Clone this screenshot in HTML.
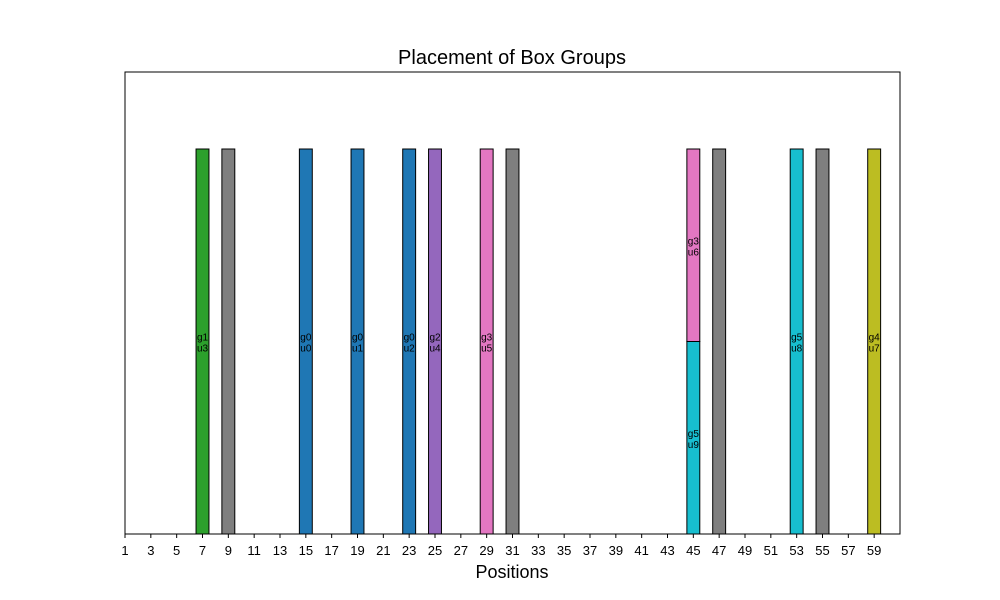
<!DOCTYPE html>
<html><head><meta charset="utf-8"><style>body{margin:0;background:#fff}svg{display:block}text{font-family:"Liberation Sans","DejaVu Sans",sans-serif}</style></head>
<body>
<svg id="chart" width="1000" height="600" xmlns="http://www.w3.org/2000/svg">
<rect x="0" y="0" width="1000" height="600" fill="#fff"/>
<text x="512" y="64" text-anchor="middle" font-size="20">Placement of Box Groups</text>
<g id="bars"></g>
<rect x="125" y="72" width="775" height="462" fill="none" stroke="#000" stroke-width="1"/>
<g id="ticks"></g>
<text x="512" y="578" text-anchor="middle" font-size="18">Positions</text>
</svg>
<script>
const positions = [7, 9, 15, 19, 23, 25, 29, 31, 45, 45, 47, 53, 55, 59];
const bottoms   = [0, 0, 0, 0, 0, 0, 0, 0, 0, 0.5, 0, 0, 0, 0];
const heights   = [1, 1, 1, 1, 1, 1, 1, 1, 0.5, 0.5, 1, 1, 1, 1];
const colors    = ['#2ca02c','#7f7f7f','#1f77b4','#1f77b4','#1f77b4','#9467bd','#e377c2','#7f7f7f','#17becf','#e377c2','#7f7f7f','#17becf','#7f7f7f','#bcbd22'];
const groupLabels = ['g1','','g0','g0','g0','g2','g3','','g5','g3','','g5','','g4'];
const unitLabels  = ['u3','','u0','u1','u2','u4','u5','','u9','u6','','u8','','u7'];
const xTicks = [1,3,5,7,9,11,13,15,17,19,21,23,25,27,29,31,33,35,37,39,41,43,45,47,49,51,53,55,57,59];

const NS='http://www.w3.org/2000/svg';
const X0=125,X1=900,Y0=534,Y1=72,xmin=1,xmax=61,ymin=0,ymax=1.2;
const sx=v=>X0+(v-xmin)/(xmax-xmin)*(X1-X0);
const sy=v=>Y0-(v-ymin)/(ymax-ymin)*(Y0-Y1);
const bars=document.getElementById('bars');
const defs=document.createElementNS(NS,'defs');bars.appendChild(defs);
positions.forEach((p,i)=>{
  const x=sx(p-0.5),w=sx(p+0.5)-x,yt=sy(bottoms[i]+heights[i]),yb=sy(bottoms[i]);
  const cp=document.createElementNS(NS,'clipPath');cp.setAttribute('id','c'+i);
  const cr=document.createElementNS(NS,'rect');cr.setAttribute('x',x);cr.setAttribute('y',yt);cr.setAttribute('width',w);cr.setAttribute('height',yb-yt);
  cp.appendChild(cr);defs.appendChild(cp);
  const r=document.createElementNS(NS,'rect');
  r.setAttribute('x',x);r.setAttribute('y',yt);r.setAttribute('width',w);r.setAttribute('height',yb-yt);
  r.setAttribute('fill',colors[i]);r.setAttribute('stroke','#000');r.setAttribute('stroke-width','1');
  
  
  bars.appendChild(r);
  if(groupLabels[i]){
    const cy=(yt+yb)/2;
    const g=document.createElementNS(NS,'g');g.setAttribute('clip-path','url(#c'+i+')');
    
    
    [[groupLabels[i],cy-1],[unitLabels[i],cy+10]].forEach(([s,y])=>{
      const t=document.createElementNS(NS,'text');t.setAttribute('x',x+w/2);t.setAttribute('y',y);
      t.setAttribute('text-anchor','middle');t.setAttribute('font-size','10');t.textContent=s;g.appendChild(t);
    });
    bars.appendChild(g);
  }
});
const tk=document.getElementById('ticks');
xTicks.forEach(v=>{
  const x=sx(v);
  const l=document.createElementNS(NS,'line');l.setAttribute('x1',x);l.setAttribute('x2',x);l.setAttribute('y1',534);l.setAttribute('y2',538);l.setAttribute('stroke','#000');
  
  
  tk.appendChild(l);
  const t=document.createElementNS(NS,'text');t.setAttribute('x',x);t.setAttribute('y',555);t.setAttribute('text-anchor','middle');t.setAttribute('font-size','13');t.textContent=v;
  
  
  tk.appendChild(t);
});
</script>
</body></html>
